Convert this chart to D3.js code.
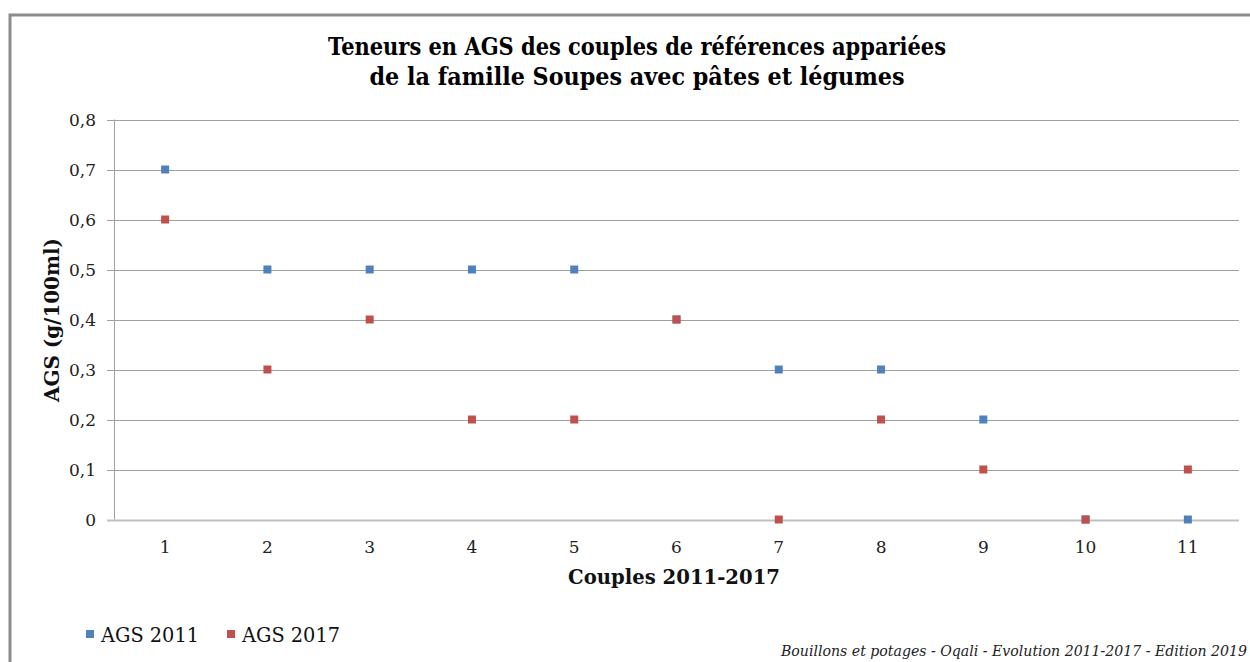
<!DOCTYPE html>
<html><head><meta charset="utf-8">
<script src="https://cdn.jsdelivr.net/npm/d3@7"></script>
<style>html,body{margin:0;padding:0;background:#fff;}svg{display:block;}</style>
</head><body>
<svg id="c" width="1250" height="662"></svg>
<script>
const categories = ["1","2","3","4","5","6","7","8","9","10","11"];
const ags2011 = [0.7,0.5,0.5,0.5,0.5,0.4,0.3,0.3,0.2,0,0];
const ags2017 = [0.6,0.3,0.4,0.2,0.2,0.4,0,0.2,0.1,0,0.1];
const yTicks = [0,0.1,0.2,0.3,0.4,0.5,0.6,0.7,0.8];
const seriesNames = ["AGS 2011","AGS 2017"];
const colors = ["#4F81BD","#C0504D"];
const titleLines = ["Teneurs en AGS des couples de références appariées","de la famille Soupes avec pâtes et légumes"];

const svg = d3.select("#c");
const serif = "'DejaVu Serif', serif";

// outer frame
svg.append("rect").attr("x",10).attr("y",15).attr("width",1260).attr("height",670)
  .attr("fill","none").attr("stroke","#8c8c8c").attr("stroke-width",3);

const L=114, R=1239, T=119.5, B=519.5;
const x = d3.scaleBand().domain(categories).range([L,R]);
const y = d3.scaleLinear().domain([0,0.8]).range([B,T]);

// gridlines
svg.append("g").selectAll("line").data(yTicks.filter(d=>d>0)).join("line")
  .attr("x1",L-7).attr("x2",R).attr("y1",d=>Math.round(y(d))+0.5).attr("y2",d=>Math.round(y(d))+0.5)
  .attr("stroke","#a0a0a0").attr("stroke-width",1);
// y axis line
svg.append("line").attr("x1",L+0.5).attr("x2",L+0.5).attr("y1",T).attr("y2",B)
  .attr("stroke","#a0a0a0").attr("stroke-width",1);
// x axis line
svg.append("line").attr("x1",L-7).attr("x2",R).attr("y1",B+1).attr("y2",B+1)
  .attr("stroke","#bfbfbf").attr("stroke-width",2);

// y tick labels
svg.append("g").selectAll("text").data(yTicks).join("text")
  .attr("x",96).attr("y",d=>y(d)+6).attr("text-anchor","end")
  .attr("font-family",serif).attr("font-size",17).attr("fill","#222")
  .text(d=>d===0?"0":d3.format(".1f")(d).replace(".",","));

// x tick labels
svg.append("g").selectAll("text").data(categories).join("text")
  .attr("x",d=>x(d)+x.bandwidth()/2).attr("y",553).attr("text-anchor","middle")
  .attr("font-family",serif).attr("font-size",17).attr("fill","#222")
  .text(d=>d);

// markers
const series=[ags2011,ags2017];
series.forEach((vals,si)=>{
  svg.append("g").selectAll("rect").data(vals).join("rect")
    .attr("x",(d,i)=>x(categories[i])+x.bandwidth()/2-4)
    .attr("y",d=>y(d)-4).attr("width",8).attr("height",8)
    .attr("fill",colors[si]);
});

// title
svg.append("g").selectAll("text").data(titleLines).join("text")
  .attr("x",637).attr("y",(d,i)=>55+i*30).attr("text-anchor","middle")
  .attr("font-family",serif).attr("font-weight","bold").attr("font-size",24).attr("fill","#000")
  .attr("textLength",(d,i)=>i===0?618:535).attr("lengthAdjust","spacingAndGlyphs")
  .text(d=>d);

// axis titles
svg.append("text").attr("x",674).attr("y",584).attr("text-anchor","middle")
  .attr("font-family",serif).attr("font-weight","bold").attr("font-size",20).attr("fill","#111")
  .attr("textLength",212).attr("lengthAdjust","spacingAndGlyphs")
  .text("Couples 2011-2017");
svg.append("text").attr("transform","translate(59,320) rotate(-90)").attr("text-anchor","middle")
  .attr("font-family",serif).attr("font-weight","bold").attr("font-size",20).attr("fill","#111")
  .attr("textLength",164).attr("lengthAdjust","spacingAndGlyphs")
  .text("AGS (g/100ml)");

// legend
const legX=[86,227];
seriesNames.forEach((n,i)=>{
  svg.append("rect").attr("x",legX[i]).attr("y",630).attr("width",8).attr("height",8).attr("fill",colors[i]);
  svg.append("text").attr("x",legX[i]+15).attr("y",642)
    .attr("font-family",serif).attr("font-size",21).attr("fill","#111")
    .attr("textLength",98).attr("lengthAdjust","spacingAndGlyphs").text(n);
});

// footer
svg.append("text").attr("x",1247).attr("y",656).attr("text-anchor","end")
  .attr("font-family",serif).attr("font-style","italic").attr("font-size",14).attr("fill","#222")
  .attr("textLength",466).attr("lengthAdjust","spacingAndGlyphs")
  .text("Bouillons et potages - Oqali - Evolution 2011-2017 - Edition 2019");
</script>
</body></html>
